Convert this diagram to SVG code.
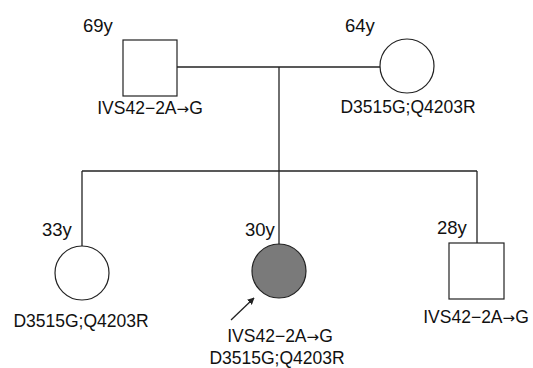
<svg xmlns="http://www.w3.org/2000/svg" width="533" height="368" viewBox="0 0 533 368">
<style>
.t{font-family:"Liberation Sans",Arial,sans-serif;font-size:17.5px;fill:#111}
.a{font-family:"Liberation Sans",Arial,sans-serif;font-size:18.5px;fill:#111}
.r{font-family:"DejaVu Sans",sans-serif;font-size:15px}
.s{fill:#fff;stroke:#222;stroke-width:1.2}
.l{stroke:#222;stroke-width:1.3;fill:none}
</style>
<defs>
<marker id="ah" viewBox="0 0 10 10" refX="9" refY="5" markerWidth="7" markerHeight="7" orient="auto" markerUnits="userSpaceOnUse">
<path d="M0,0 L10,5 L0,10 z" fill="#222"/>
</marker>
</defs>
<rect width="533" height="368" fill="#fff"/>
<g id="connectors">
<path class="l" d="M177,67 H380"/>
<path class="l" d="M279,67 V245"/>
<path class="l" d="M82,171 H477"/>
<path class="l" d="M82,171 V247"/>
<path class="l" d="M477,171 V247"/>
<path class="l" d="M231,320 L254,298" marker-end="url(#ah)" stroke-width="1"/>
</g>
<g id="father">
<rect class="s" x="123" y="40" width="54" height="56"/>
<text class="a" x="83" y="32">69y</text>
<text class="t" x="150" y="114" text-anchor="middle">IVS42−2A<tspan class="r">→</tspan>G</text>
</g>
<g id="mother">
<circle class="s" cx="407" cy="66" r="27"/>
<text class="a" x="345" y="32">64y</text>
<text class="t" x="408" y="113" text-anchor="middle">D3515G;Q4203R</text>
</g>
<g id="sister">
<circle class="s" cx="82" cy="273" r="27"/>
<text class="a" x="42" y="236">33y</text>
<text class="t" x="81" y="327" text-anchor="middle">D3515G;Q4203R</text>
</g>
<g id="proband">
<circle cx="279" cy="271" r="27" fill="#7a7a7a" stroke="#222" stroke-width="1.2"/>
<text class="a" x="245" y="236">30y</text>
<text class="t" x="280" y="342" text-anchor="middle">IVS42−2A<tspan class="r">→</tspan>G</text>
<text class="t" x="277" y="364" text-anchor="middle">D3515G;Q4203R</text>
</g>
<g id="brother">
<rect class="s" x="449" y="243" width="55" height="56"/>
<text class="a" x="437" y="234">28y</text>
<text class="t" x="476" y="323" text-anchor="middle">IVS42−2A<tspan class="r">→</tspan>G</text>
</g>
</svg>
